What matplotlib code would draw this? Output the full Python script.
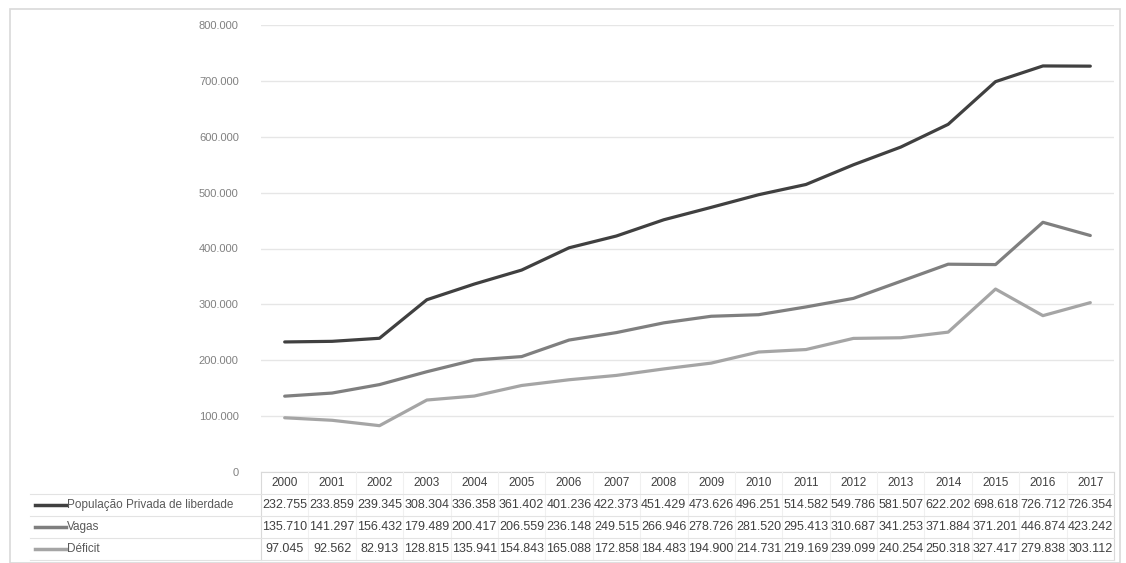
import matplotlib.pyplot as plt
from matplotlib.patches import Rectangle
from matplotlib.lines import Line2D
from matplotlib.ticker import FuncFormatter

years = [str(y) for y in range(2000, 2018)]
populacao = [232755, 233859, 239345, 308304, 336358, 361402, 401236, 422373, 451429,
             473626, 496251, 514582, 549786, 581507, 622202, 698618, 726712, 726354]
vagas = [135710, 141297, 156432, 179489, 200417, 206559, 236148, 249515, 266946,
         278726, 281520, 295413, 310687, 341253, 371884, 371201, 446874, 423242]
deficit = [97045, 92562, 82913, 128815, 135941, 154843, 165088, 172858, 184483,
           194900, 214731, 219169, 239099, 240254, 250318, 327417, 279838, 303112]

series = [
    ("População Privada de liberdade", populacao, "#404040"),
    ("Vagas", vagas, "#7f7f7f"),
    ("Déficit", deficit, "#a5a5a5"),
]

W, H = 1126, 563
plt.rcParams['font.family'] = ['Liberation Sans', 'DejaVu Sans']

fig = plt.figure(figsize=(W / 100, H / 100), dpi=100)

# outer chart border
fig.patches.append(Rectangle((10 / W, 0), (1120 - 10) / W, 1 - 9 / H,
                             transform=fig.transFigure, fill=False,
                             edgecolor="#d9d9d9", linewidth=1.2))

left, right, top, bottom = 261, 1114, 25, 472
ax = fig.add_axes([left / W, 1 - bottom / H, (right - left) / W, (bottom - top) / H])

x = list(range(len(years)))
for name, vals, col in series:
    ax.plot(x, vals, color=col, linewidth=2.3, solid_capstyle="round")

ax.set_xlim(-0.5, len(years) - 0.5)
ax.set_ylim(0, 800000)
ax.set_yticks(range(0, 800001, 100000))
ax.yaxis.set_major_formatter(FuncFormatter(lambda v, p: f"{int(v):,}".replace(",", ".")))
ax.tick_params(axis="y", length=0, labelsize=8, labelcolor="#808080", pad=16)
ax.set_xticks([])
ax.grid(axis="y", color="#e6e6e6", linewidth=1)
ax.set_axisbelow(True)
for s in ["top", "right", "left"]:
    ax.spines[s].set_visible(False)
ax.spines["bottom"].set_color("#d9d9d9")

# data table below the plot
row_y = [483, 505, 527, 549]
hlines = [494, 516, 538, 560]
tcol = "#e3e3e3"
txt = "#404040"
for i in range(len(years) + 1):
    xf = ax.transData.transform((i - 0.5, 0))[0] / W
    c = "#d9d9d9" if i in (0, len(years)) else "#f0f0f0"
    fig.add_artist(Line2D([xf, xf], [1 - bottom / H, 1 - 560 / H], color=c, lw=0.8))
for hy in hlines:
    fig.add_artist(Line2D([30 / W, right / W], [1 - hy / H] * 2, color=tcol, lw=0.8))

for i, yr in enumerate(years):
    xf = ax.transData.transform((i, 0))[0] / W
    fig.text(xf, 1 - row_y[0] / H, yr, ha="center", va="center", fontsize=8.5, color=txt)

for r, (name, vals, col) in enumerate(series):
    yf = 1 - row_y[r + 1] / H
    fig.add_artist(Line2D([35 / W, 66 / W], [yf, yf], color=col, lw=2.5))
    fig.text(67 / W, yf, name, ha="left", va="center", fontsize=8.5, color="#595959")
    for i, v in enumerate(vals):
        xf = ax.transData.transform((i, 0))[0] / W
        fig.text(xf, yf, f"{v:,}".replace(",", "."), ha="center", va="center",
                 fontsize=9, color=txt)

fig.savefig("out.png", dpi=100, facecolor="white")
